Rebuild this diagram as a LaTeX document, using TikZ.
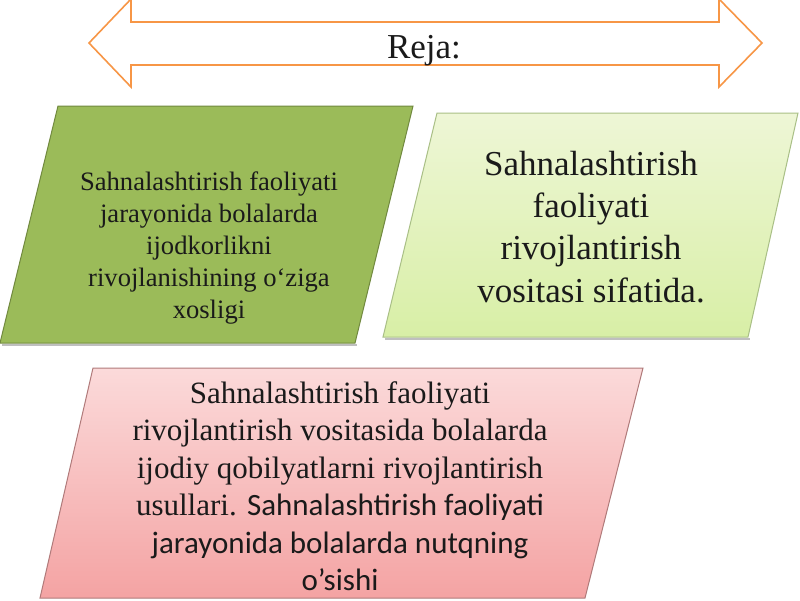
\documentclass[tikz,border=0pt]{standalone}
\usepackage{fontspec}
\setmainfont{Liberation Serif}
\newfontfamily\carlito{Carlito}
\definecolor{arroworange}{HTML}{F79646}
\definecolor{olivefill}{HTML}{9BBB59}
\definecolor{olivedraw}{HTML}{71893F}
\definecolor{lgtop}{HTML}{EEF6D6}
\definecolor{lgbot}{HTML}{D8EFA6}
\definecolor{lgdraw}{HTML}{A9BF86}
\definecolor{pktop}{HTML}{FBDADA}
\definecolor{pkbot}{HTML}{F4A3A3}
\definecolor{pkdraw}{HTML}{B07A7A}
\definecolor{txt}{HTML}{1A1A1A}
\tikzset{
  plantext/.style={inner sep=0pt, align=center, text=txt, anchor=base},
  shadowline/.style={draw=black!25, line width=2pt}
}
\begin{document}
\begin{tikzpicture}[x=1pt,y=-1pt]
\useasboundingbox (0,0) rectangle (800,600);
\fill[white] (0,0) rectangle (800,600);
% double arrow
\draw[arroworange, line width=1.6pt, fill=white, line join=miter]
  (89,43) -- (131,-1) -- (131,22) -- (719,22) -- (719,-1) -- (762,43)
  -- (719,87) -- (719,65) -- (131,65) -- (131,87) -- cycle;
\node[plantext, font=\fontsize{35}{42}\selectfont] (reja) at (424,58) {Reja:};
% green parallelogram
\draw[shadowline] (2,345) -- (357,345);
\filldraw[fill=olivefill, draw=olivedraw, line width=1pt]
  (58,106) -- (413,106) -- (355,343) -- (0,343) -- cycle;
\node[plantext, font=\fontsize{26.6}{32}\selectfont] (green) at (209,318)
  {Sahnalashtirish faoliyati\\jarayonida bolalarda\\ijodkorlikni\\rivojlanishining o‘ziga\\xosligi};
% light green parallelogram
\draw[shadowline] (385,339) -- (750,339);
\shadedraw[top color=lgtop, bottom color=lgbot, draw=lgdraw, line width=1pt]
  (437,113) -- (798,113) -- (748,337) -- (383,337) -- cycle;
\node[plantext, font=\fontsize{35}{42.3}\selectfont] (lightgreen) at (591,302)
  {Sahnalashtirish\\faoliyati\\rivojlantirish\\vositasi sifatida.};
% pink parallelogram
\shadedraw[top color=pktop, bottom color=pkbot, draw=pkdraw, line width=1pt]
  (93,368) -- (643,368) -- (585,598) -- (40,598) -- cycle;
\node[plantext, font=\fontsize{31}{37.5}\selectfont] (pink) at (340,590.5)
  {Sahnalashtirish faoliyati\\rivojlantirish vositasida bolalarda\\ijodiy qobilyatlarni rivojlantirish\\usullari. {\carlito Sahnalashtirish faoliyati}\\{\carlito jarayonida bolalarda nutqning}\\{\carlito o’sishi}};
\end{tikzpicture}
\end{document}
